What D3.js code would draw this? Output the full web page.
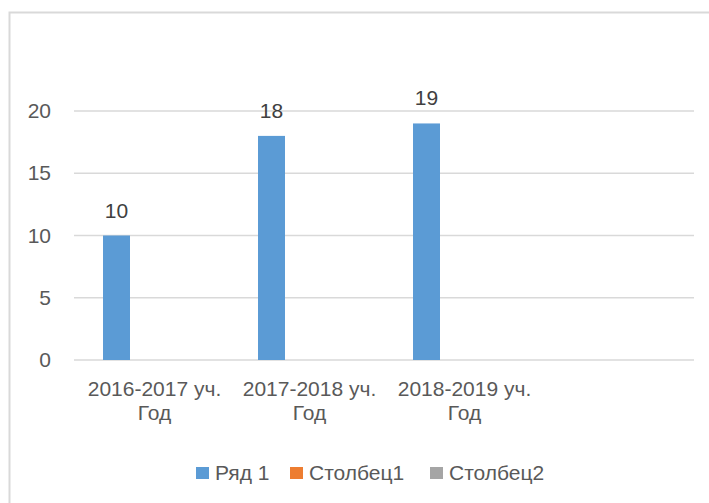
<!DOCTYPE html>
<html>
<head>
<meta charset="utf-8">
<script src="https://cdn.jsdelivr.net/npm/d3@7"></script>
<style>
  body { margin: 0; background: #fff; }
  text { font-family: "Liberation Sans", Arial, sans-serif; }
</style>
</head>
<body>
<div id="chart"></div>
<script>
"use strict"

// categories (the 4th slot is an empty category in the source chart)
var categories = ["2016-2017 уч. Год", "2017-2018 уч. Год", "2018-2019 уч. Год", ""]
var seriesNames = ["Ряд 1", "Столбец1", "Столбец2"]
var ryad1 = [10, 18, 19, null]
var stolbec1 = [null, null, null, null]
var stolbec2 = [null, null, null, null]
var yTicks = [0, 5, 10, 15, 20]

var seriesValues = [ryad1, stolbec1, stolbec2]
var colors = ["#5b9bd5", "#ed7d31", "#a5a5a5"]

var width = 709
var height = 503
var margin = { top: 111, right: 15, bottom: 143, left: 74 }
var fontSize = 21

var svg = d3.select("#chart").append("svg")
  .attr("width", width)
  .attr("height", height)

// chart border
svg.append("rect")
  .attr("x", 9.5).attr("y", 12.5)
  .attr("width", 800).attr("height", 600)
  .attr("fill", "none")
  .attr("stroke", "#d9d9d9")
  .attr("stroke-width", 2)

var x0 = d3.scaleBand()
  .domain(d3.range(categories.length))
  .range([margin.left, width - margin.right])

var x1 = d3.scaleBand()
  .domain(seriesNames)
  .range([0, x0.bandwidth()])
  .paddingInner(0.229)
  .paddingOuter(0.829)

var y = d3.scaleLinear()
  .domain([0, 20])
  .range([height - margin.bottom, margin.top])

// gridlines
svg.append("g")
  .selectAll("line")
  .data(yTicks)
  .join("line")
  .attr("x1", margin.left)
  .attr("x2", width - margin.right)
  .attr("y1", function(d) { return y(d) })
  .attr("y2", function(d) { return y(d) })
  .attr("stroke", "#d9d9d9")
  .attr("stroke-width", 1.5)

// y tick labels
svg.append("g")
  .selectAll("text")
  .data(yTicks)
  .join("text")
  .attr("x", 51)
  .attr("y", function(d) { return y(d) + 7 })
  .attr("text-anchor", "end")
  .attr("font-size", fontSize)
  .attr("fill", "#595959")
  .text(function(d) { return d })

// bars
var groups = svg.append("g")
  .selectAll("g")
  .data(seriesNames)
  .join("g")
  .attr("fill", function(d, i) { return colors[i] })

groups.selectAll("rect")
  .data(function(name, si) {
    return seriesValues[si].map(function(v, ci) { return { name: name, ci: ci, v: v } })
  })
  .join("rect")
  .filter(function(d) { return d.v != null })
  .attr("x", function(d) { return x0(d.ci) + x1(d.name) })
  .attr("width", x1.bandwidth())
  .attr("y", function(d) { return y(d.v) })
  .attr("height", function(d) { return y(0) - y(d.v) })

// data labels
svg.append("g")
  .selectAll("text")
  .data(ryad1.map(function(v, ci) { return { ci: ci, v: v } }).filter(function(d) { return d.v != null }))
  .join("text")
  .attr("x", function(d) { return x0(d.ci) + x1(seriesNames[0]) + x1.bandwidth() / 2 })
  .attr("y", function(d) { return y(d.v) - 18 })
  .attr("text-anchor", "middle")
  .attr("font-size", fontSize)
  .attr("fill", "#404040")
  .text(function(d) { return d.v })

// category labels (two lines each)
var catLabels = svg.append("g")
  .selectAll("text")
  .data(categories)
  .join("text")
  .attr("text-anchor", "middle")
  .attr("font-size", fontSize)
  .attr("fill", "#595959")
  .attr("transform", function(d, i) { return "translate(" + (x0(i) + x0.bandwidth() / 2 + 3) + ",396)" })

catLabels.each(function(d) {
  if (!d) return
  var parts = d.split(" Год")
  d3.select(this).append("tspan").attr("x", 0).attr("y", 0).text(parts[0])
  d3.select(this).append("tspan").attr("x", 0).attr("y", 23.5).text("Год")
})

// legend
var legendX = [196, 290, 430]
var legend = svg.append("g")
  .selectAll("g")
  .data(seriesNames)
  .join("g")
  .attr("transform", function(d, i) { return "translate(" + legendX[i] + ",467)" })

legend.append("rect")
  .attr("width", 13).attr("height", 12)
  .attr("fill", function(d, i) { return colors[i] })

legend.append("text")
  .attr("x", 19)
  .attr("y", 13)
  .attr("font-size", fontSize)
  .attr("fill", "#595959")
  .text(function(d) { return d })
</script>
</body>
</html>
